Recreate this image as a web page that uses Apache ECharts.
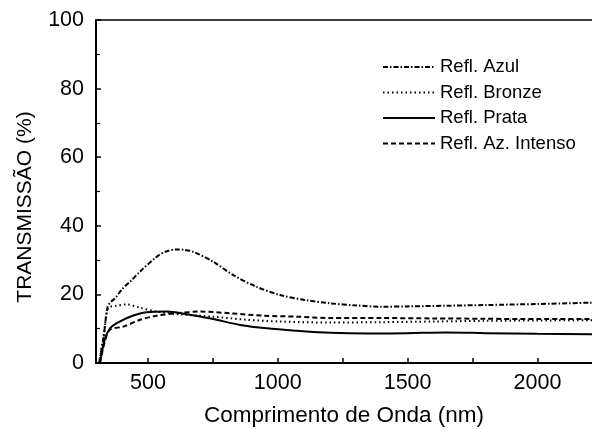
<!DOCTYPE html>
<html>
<head>
<meta charset="utf-8">
<script src="https://cdn.jsdelivr.net/npm/echarts@6/dist/echarts.min.js"></script>
<style>html,body{margin:0;padding:0;background:#fff}#c{width:592px;height:432px}</style>
</head>
<body>
<div id="c"></div>
<script>
// Wavelength (nm) and transmission (%) per series
const azulNm = [312, 330, 345, 360, 375, 400, 435, 470, 534, 570, 605, 640, 675, 752, 829, 919, 1009, 1112, 1202, 1300, 1400, 1500, 1650, 1800, 2000, 2210];
const azulT  = [0, 8, 16.5, 18.0, 19.0, 21.5, 24.0, 26.7, 31.0, 32.5, 33.1, 33.0, 32.4, 29.5, 25.6, 22.2, 19.8, 18.3, 17.4, 16.8, 16.4, 16.5, 16.7, 16.9, 17.2, 17.6];

const bronzeNm = [312, 330, 347, 380, 418, 470, 534, 624, 752, 881, 1009, 1202, 1400, 1600, 1800, 2000, 2210];
const bronzeT  = [0, 8, 16.0, 16.7, 17.1, 16.1, 15.0, 14.2, 13.5, 12.6, 12.1, 11.8, 11.9, 12.1, 12.3, 12.4, 12.5];

const prataNm = [315, 335, 354, 380, 431, 495, 572, 650, 752, 855, 958, 1074, 1202, 1350, 1500, 1650, 1800, 2000, 2210];
const prataT  = [0, 7.2, 10.1, 11.6, 13.5, 14.8, 15.0, 14.2, 12.8, 11.1, 10.1, 9.4, 8.8, 8.6, 8.7, 8.9, 8.7, 8.5, 8.4];

const intensoNm = [315, 335, 354, 405, 470, 534, 611, 701, 817, 945, 1074, 1202, 1400, 1600, 1800, 2000, 2210];
const intensoT  = [0, 6.5, 9.7, 10.6, 12.6, 13.8, 14.5, 15.0, 14.5, 13.8, 13.5, 13.1, 13.1, 13.0, 12.9, 12.8, 12.8];

const seriesNames = ['Refl. Azul', 'Refl. Bronze', 'Refl. Prata', 'Refl. Az. Intenso'];
const xTickValues = [500, 750, 1000, 1250, 1500, 1750, 2000];
const xLabelValues = [500, 1000, 1500, 2000];
const yTicks = [0, 20, 40, 60, 80, 100];

const pairs = (xs, ys) => xs.map((x, i) => [x, ys[i]]);
const FONT = 'Liberation Sans, Arial, Helvetica, sans-serif';

const chart = echarts.init(document.getElementById('c'), null, {renderer: 'canvas'});
const lineBase = (name, data, type) => ({
  name, type: 'line', data, showSymbol: false, symbol: 'none', smooth: 0.3,
  lineStyle: {color: '#000', width: 2, type}, itemStyle: {color: '#000'},
  animation: false
});

chart.setOption({
  animation: false,
  grid: {left: 96, right: 0, top: 20, bottom: 67, containLabel: false},
  legend: {
    orient: 'vertical', left: 382, top: 57, padding: 0,
    itemWidth: 52, itemHeight: 10, itemGap: 5.5,
    data: seriesNames,
    itemStyle: {opacity: 0},
    textStyle: {fontFamily: FONT, fontSize: 18.5, color: '#000', lineHeight: 20}
  },
  xAxis: [{
    type: 'value', min: 300, max: 2210,
    axisLine: {show: true, lineStyle: {color: '#000', width: 2}},
    axisTick: {show: true, inside: true, length: 5, customValues: xTickValues, lineStyle: {color: '#000', width: 1.5}},
    axisLabel: {customValues: xLabelValues, fontFamily: FONT, fontSize: 21.5, color: '#000', margin: 9,
      formatter: v => String(v)},
    splitLine: {show: false},
    name: 'Comprimento de Onda (nm)', nameLocation: 'middle', nameGap: 41,
    nameTextStyle: {fontFamily: FONT, fontSize: 22.5, color: '#000'}
  }, {
    type: 'value', position: 'top', min: 300, max: 2210,
    axisLine: {show: true, onZero: false, lineStyle: {color: '#000', width: 1.5}},
    axisTick: {show: false}, axisLabel: {show: false}, splitLine: {show: false}
  }],
  yAxis: {
    type: 'value', min: 0, max: 100, interval: 20,
    axisLine: {show: true, lineStyle: {color: '#000', width: 2}},
    axisTick: {show: true, inside: true, length: 5, lineStyle: {color: '#000', width: 1.5}},
    minorTick: {show: true, splitNumber: 2, length: 4, lineStyle: {color: '#000', width: 1.2}},
    axisLabel: {fontFamily: FONT, fontSize: 21.5, color: '#000', margin: 12,
      formatter: v => yTicks.includes(v) ? String(v) : ''},
    splitLine: {show: false}
  },
  graphic: [{
    type: 'text', x: 25, y: 207, rotation: Math.PI / 2,
    style: {text: 'TRANSMISSÃO (%)', font: '21px ' + FONT, fill: '#000', align: 'center', verticalAlign: 'middle'}
  }],
  series: [
    lineBase(seriesNames[0], pairs(azulNm, azulT), [5, 2, 1.5, 2]),
    lineBase(seriesNames[1], pairs(bronzeNm, bronzeT), [1.5, 3]),
    lineBase(seriesNames[2], pairs(prataNm, prataT), 'solid'),
    lineBase(seriesNames[3], pairs(intensoNm, intensoT), [5, 3])
  ]
});
</script>
</body>
</html>
